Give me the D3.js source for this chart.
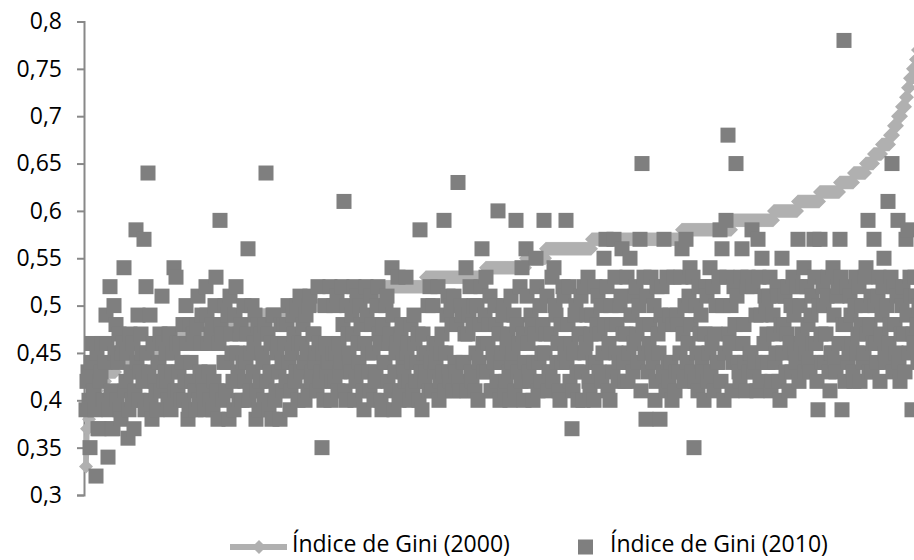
<!DOCTYPE html>
<html>
<head>
<meta charset="utf-8">
<script src="https://cdn.jsdelivr.net/npm/d3@7"></script>
<style>
  body { margin: 0; background: #fff; }
  svg { display: block; font-family: 'Open Sans', sans-serif; }
</style>
</head>
<body>
<div id="chart"></div>
<script>
// Gini 2000, sorted ascending: each level and how many municipalities sit on it
var gini2000Levels = [0.33, 0.37, 0.38, 0.39, 0.40, 0.41, 0.42, 0.43, 0.44, 0.45, 0.46, 0.47, 0.48, 0.49,
  0.50, 0.51, 0.52, 0.53, 0.54, 0.55, 0.56, 0.57, 0.58, 0.59, 0.60, 0.61, 0.62, 0.63, 0.64, 0.65,
  0.66, 0.67, 0.68, 0.69, 0.70, 0.71, 0.72, 0.73, 0.74, 0.75, 0.76, 0.77];
var gini2000Counts = [1, 2, 1, 2, 2, 4, 8, 10, 20, 20, 20, 30, 50, 50,
  50, 30, 40, 60, 40, 20, 46, 90, 50, 42, 24, 22, 20, 14, 12, 8,
  8, 8, 4, 4, 4, 4, 2, 2, 3, 3, 2, 2];

// Gini 2010, same municipality order as the 2000 series (40 per row)
var gini2010 = [
  0.39,0.42, 0.43,0.40, 0.35,0.44, 0.46,0.41, 0.41,0.39, 0.32,0.45, 0.37,0.37, 0.42,0.43, 0.46,0.40, 0.40,0.44, 0.49,0.46, 0.34,0.39, 0.52,0.41, 0.37,0.37, 0.50,0.45, 0.48,0.40, 0.44,0.47, 0.39,0.38, 0.45,0.46, 0.54,0.41,
  0.42,0.45, 0.36,0.39, 0.47,0.43, 0.40,0.46, 0.37,0.41, 0.58,0.44, 0.49,0.40, 0.43,0.47, 0.45,0.42, 0.57,0.39, 0.52,0.45, 0.64,0.43, 0.49,0.40, 0.38,0.46, 0.46,0.42, 0.41,0.39, 0.44,0.44, 0.47,0.41, 0.51,0.46, 0.42,0.43,
  0.45,0.42, 0.40,0.47, 0.47,0.39, 0.43,0.45, 0.54,0.41, 0.53,0.46, 0.41,0.43, 0.46,0.40, 0.44,0.48, 0.40,0.42, 0.50,0.46, 0.38,0.39, 0.48,0.44, 0.42,0.47, 0.47,0.41, 0.39,0.48, 0.51,0.40, 0.43,0.46, 0.49,0.42, 0.41,0.39,
  0.52,0.49, 0.46,0.43, 0.40,0.47, 0.48,0.39, 0.42,0.50, 0.53,0.41, 0.38,0.46, 0.59,0.48, 0.47,0.40, 0.44,0.50, 0.41,0.44, 0.49,0.38, 0.51,0.47, 0.45,0.42, 0.39,0.49, 0.52,0.45, 0.43,0.40, 0.47,0.48, 0.40,0.44, 0.50,0.42,
  0.44,0.47, 0.56,0.40, 0.41,0.45, 0.50,0.43, 0.46,0.49, 0.38,0.41, 0.48,0.39, 0.42,0.47, 0.45,0.44, 0.40,0.48, 0.64,0.42, 0.47,0.39, 0.43,0.46, 0.38,0.49, 0.49,0.40, 0.41,0.45, 0.46,0.43, 0.38,0.48, 0.44,0.41, 0.48,0.46,
  0.42,0.48, 0.50,0.44, 0.39,0.41, 0.45,0.49, 0.47,0.42, 0.43,0.50, 0.40,0.46, 0.51,0.43, 0.46,0.48, 0.44,0.40, 0.49,0.45, 0.41,0.50, 0.51,0.42, 0.43,0.47, 0.47,0.44, 0.45,0.41, 0.52,0.46, 0.42,0.43, 0.35,0.45, 0.40,0.50,
  0.46,0.43, 0.44,0.44, 0.52,0.40, 0.42,0.45, 0.50,0.42, 0.45,0.51, 0.41,0.46, 0.43,0.44, 0.52,0.48, 0.61,0.41, 0.40,0.50, 0.47,0.45, 0.44,0.43, 0.49,0.47, 0.52,0.40, 0.42,0.51, 0.46,0.44, 0.50,0.48, 0.43,0.41, 0.39,0.46,
  0.52,0.49, 0.45,0.43, 0.41,0.51, 0.48,0.45, 0.40,0.42, 0.43,0.50, 0.52,0.47, 0.46,0.40, 0.39,0.48, 0.44,0.44, 0.50,0.51, 0.42,0.46, 0.47,0.41, 0.54,0.49, 0.39,0.43, 0.45,0.46, 0.53,0.40, 0.41,0.47, 0.48,0.44, 0.43,0.42,
  0.53,0.45, 0.46,0.42, 0.40,0.48, 0.44,0.41, 0.49,0.46, 0.42,0.44, 0.47,0.40, 0.58,0.43, 0.39,0.47, 0.45,0.42, 0.43,0.45, 0.50,0.41, 0.52,0.44, 0.41,0.50, 0.46,0.43, 0.44,0.46, 0.52,0.40, 0.42,0.45, 0.47,0.43, 0.59,0.41,
  0.45,0.49, 0.51,0.43, 0.42,0.50, 0.48,0.41, 0.51,0.44, 0.43,0.48, 0.63,0.42, 0.41,0.50, 0.49,0.44, 0.44,0.47, 0.54,0.41, 0.47,0.49, 0.52,0.43, 0.42,0.48, 0.50,0.41, 0.45,0.50, 0.40,0.44, 0.48,0.52, 0.56,0.46, 0.43,0.49,
  0.53,0.43, 0.46,0.48, 0.51,0.41, 0.41,0.45, 0.44,0.50, 0.48,0.42, 0.60,0.47, 0.40,0.44, 0.45,0.49, 0.50,0.41, 0.42,0.46, 0.47,0.43, 0.40,0.51, 0.44,0.45, 0.49,0.41, 0.59,0.48, 0.43,0.46, 0.52,0.42, 0.54,0.47, 0.40,0.44,
  0.56,0.51, 0.46,0.43, 0.42,0.49, 0.48,0.40, 0.44,0.47, 0.55,0.52, 0.41,0.44, 0.50,0.42, 0.45,0.48, 0.59,0.45, 0.47,0.51, 0.41,0.43, 0.43,0.47, 0.53,0.42, 0.54,0.50, 0.49,0.44, 0.46,0.41, 0.40,0.48, 0.44,0.52, 0.51,0.45,
  0.59,0.44, 0.48,0.52, 0.42,0.46, 0.37,0.41, 0.45,0.49, 0.50,0.43, 0.40,0.47, 0.47,0.51, 0.43,0.40, 0.52,0.45, 0.46,0.49, 0.53,0.42, 0.41,0.47, 0.49,0.44, 0.40,0.52, 0.44,0.48, 0.51,0.43, 0.47,0.50, 0.42,0.45, 0.55,0.48,
  0.57,0.52, 0.41,0.46, 0.40,0.50, 0.48,0.43, 0.57,0.53, 0.45,0.48, 0.42,0.44, 0.50,0.51, 0.56,0.47, 0.44,0.42, 0.47,0.53, 0.42,0.45, 0.55,0.49, 0.49,0.43, 0.46,0.51, 0.52,0.47, 0.44,0.50, 0.57,0.41, 0.65,0.48, 0.53,0.45,
  0.38,0.51, 0.43,0.46, 0.48,0.53, 0.45,0.44, 0.50,0.40, 0.42,0.52, 0.47,0.45, 0.38,0.49, 0.52,0.43, 0.57,0.48, 0.41,0.53, 0.44,0.42, 0.49,0.44, 0.40,0.48, 0.53,0.41, 0.43,0.49, 0.48,0.43, 0.45,0.53, 0.56,0.47, 0.42,0.50,
  0.57,0.44, 0.46,0.51, 0.54,0.48, 0.43,0.53, 0.35,0.42, 0.50,0.45, 0.41,0.52, 0.47,0.49, 0.44,0.43, 0.40,0.47, 0.52,0.51, 0.42,0.45, 0.54,0.43, 0.46,0.52, 0.41,0.47, 0.50,0.44, 0.44,0.53, 0.58,0.42, 0.56,0.50, 0.40,0.45,
  0.59,0.53, 0.68,0.47, 0.46,0.50, 0.41,0.44, 0.52,0.48, 0.65,0.51, 0.44,0.43, 0.42,0.53, 0.56,0.46, 0.48,0.44, 0.41,0.52, 0.53,0.43, 0.45,0.45, 0.58,0.52, 0.43,0.44, 0.49,0.41, 0.57,0.53, 0.42,0.49, 0.55,0.44, 0.46,0.51,
  0.50,0.47, 0.44,0.51, 0.53,0.41, 0.42,0.49, 0.47,0.44, 0.45,0.52, 0.51,0.42, 0.40,0.48, 0.55,0.45, 0.48,0.51, 0.43,0.47, 0.52,0.41, 0.46,0.50, 0.43,0.53, 0.49,0.45, 0.44,0.52, 0.57,0.42, 0.50,0.46, 0.47,0.52, 0.54,0.43,
  0.45,0.52, 0.48,0.44, 0.43,0.49, 0.51,0.46, 0.57,0.53, 0.46,0.42, 0.39,0.50, 0.57,0.47, 0.44,0.52, 0.50,0.44, 0.47,0.51, 0.53,0.43, 0.41,0.45, 0.45,0.54, 0.49,0.44, 0.43,0.51, 0.52,0.46, 0.57,0.53, 0.39,0.48, 0.78,0.42,
  0.48,0.52, 0.44,0.45, 0.51,0.49, 0.46,0.43, 0.42,0.50, 0.53,0.45, 0.47,0.52, 0.42,0.48, 0.50,0.44, 0.45,0.53, 0.54,0.47, 0.59,0.43, 0.48,0.51, 0.43,0.46, 0.57,0.50, 0.46,0.44, 0.51,0.53, 0.42,0.47, 0.49,0.52, 0.55,0.45,
  0.44,0.50, 0.61,0.46, 0.48,0.53, 0.65,0.43, 0.52,0.48, 0.45,0.51, 0.59,0.44, 0.42,0.47, 0.50,0.52, 0.47,0.43, 0.57,0.49, 0.58,0.45, 0.53,0.51, 0.39,0.47, 0.46,0.53, 0.51,0.48, 0.44,0.50
];

var yTicks = [0.3, 0.35, 0.4, 0.45, 0.5, 0.55, 0.6, 0.65, 0.7, 0.75, 0.8];
var seriesNames = ['Índice de Gini (2000)', 'Índice de Gini (2010)'];

var width = 914;
var height = 560;
var lightGray = '#b0b0b0';
var darkGray = '#7f7f7f';
var axisGray = '#888888';

// unpack the run list into one value per municipality
var gini2000 = [];
gini2000Levels.forEach((level, k) => {
  for (var j = 0; j < gini2000Counts[k]; j++) gini2000.push(level);
});

var svg = d3.select('#chart').append('svg').attr('width', width).attr('height', height);

var x = d3.scaleLinear().domain([0, gini2010.length - 1]).range([86, 919]);
var y = d3.scaleLinear().domain([0.3, 0.8]).range([495, 21.5]);

// y axis
var yAxis = d3.axisLeft(y)
  .tickValues(yTicks)
  .tickSize(7)
  .tickPadding(15)
  .tickFormat((d) => d3.format('.2~f')(d).replace('.', ','));

var gAxis = svg.append('g').attr('transform', 'translate(84,0)').call(yAxis);
gAxis.select('.domain').attr('stroke', axisGray).attr('stroke-width', 2);
gAxis.selectAll('.tick line').attr('stroke', axisGray).attr('stroke-width', 2);
gAxis.selectAll('.tick text')
  .attr('fill', '#000')
  .style('font-family', "'Open Sans', sans-serif")
  .style('font-size', '23px');

function diamond(sel, size) {
  return sel.attr('d', d3.symbol(d3.symbolSquare, size)()).attr('fill', lightGray);
}

// 2000 series: line with diamond markers
var line = d3.line()
  .x((d, i) => x(i))
  .y((d) => y(d));

svg.append('path')
  .datum(gini2000)
  .attr('d', line)
  .attr('fill', 'none')
  .attr('stroke', lightGray)
  .attr('stroke-width', 5.5)
  .attr('stroke-linejoin', 'round');

svg.append('g').selectAll('path')
  .data(gini2000)
  .join('path')
  .call(diamond, 98)
  .attr('transform', (d, i) => `translate(${x(i)},${y(d)}) rotate(45)`);

// 2010 series: square markers
var sq = 15;
svg.append('g').selectAll('rect')
  .data(gini2010)
  .join('rect')
  .attr('x', (d, i) => x(i) - sq / 2)
  .attr('y', (d) => y(d) - sq / 2)
  .attr('width', sq)
  .attr('height', sq)
  .attr('fill', darkGray);

// legend
var legend = svg.append('g').style('font-size', '23px');
var ly = 547;
var baseline = 552;

legend.append('line')
  .attr('x1', 230).attr('x2', 287)
  .attr('y1', ly).attr('y2', ly)
  .attr('stroke', lightGray)
  .attr('stroke-width', 6);
legend.append('path')
  .call(diamond, 98)
  .attr('transform', `translate(259,${ly}) rotate(45)`);
legend.append('text')
  .attr('x', 292).attr('y', baseline)
  .text(seriesNames[0]);

legend.append('rect')
  .attr('x', 578).attr('y', ly - 7.5)
  .attr('width', 15).attr('height', 15)
  .attr('fill', darkGray);
legend.append('text')
  .attr('x', 610).attr('y', baseline)
  .text(seriesNames[1]);
</script>
</body>
</html>
